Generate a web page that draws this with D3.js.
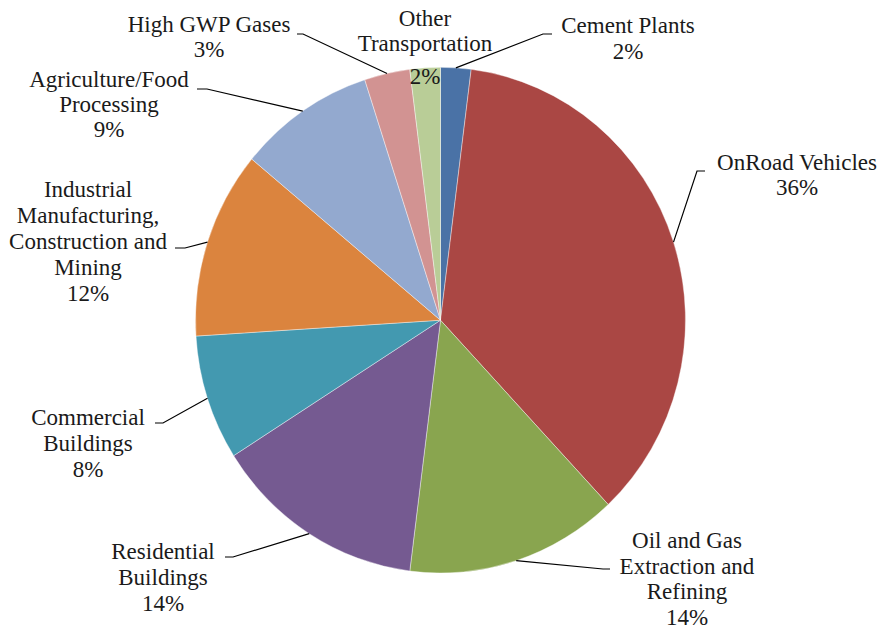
<!DOCTYPE html>
<html>
<head>
<meta charset="utf-8">
<script src="https://cdn.jsdelivr.net/npm/d3@7"></script>
<style>
  body { margin: 0; background: #fff; }
  text { font-family: "Liberation Serif", "Times New Roman", serif; fill: #1a1a1a; }
</style>
</head>
<body>
<div id="chart"></div>
<script>
// slices, clockwise from 12 o'clock
var categories = ["Cement Plants", "OnRoad Vehicles", "Oil and Gas Extraction and Refining",
    "Residential Buildings", "Commercial Buildings", "Industrial Manufacturing, Construction and Mining",
    "Agriculture/Food Processing", "High GWP Gases", "Other Transportation"];
var values = [2, 36, 14, 14, 8, 12, 9, 3, 2];
var colors = ["#4A72A6", "#AA4744", "#89A54F", "#755A91", "#4399B0", "#DB843E", "#93A9CF", "#D29392", "#B9CD97"];

// label text broken the way the chart shows it
var labelLines = [
    ["Cement Plants"],
    ["OnRoad Vehicles"],
    ["Oil and Gas", "Extraction and", "Refining"],
    ["Residential", "Buildings"],
    ["Commercial", "Buildings"],
    ["Industrial", "Manufacturing,", "Construction and", "Mining"],
    ["Agriculture/Food", "Processing"],
    ["High GWP Gases"],
    ["Other", "Transportation"]
];

// label layout: centre x, first baseline, line step
var labelPos = [
    [628, 33, 26], [797, 170, 25], [687, 548, 25.7], [163, 559, 26], [88, 425, 26],
    [88, 197, 26], [109, 87, 25], [209, 32, 25], [425, 26, 25]
];
// leader elbows [x, y, end x]; null = no leader
var leaderPos = [
    [543, 34, 552], [697, 171, 705], [603, 569, 610], [233, 557, 225], [163, 423, 155],
    [185, 248, 175], [207, 89, 197], [303, 34, 297], null
];

var width = 882, height = 629;
var cx = 440.5, cy = 320.2;
var radius = 245;
var sy = 1.032; // the picture is a little taller than wide

var svg = d3.select("#chart")
    .append("svg")
    .attr("width", width)
    .attr("height", height);

var pie = d3.pie().sort(null).value(function (d) { return d; });
var arcs = pie(values);

var arc = d3.arc().innerRadius(0).outerRadius(radius);

svg.append("g")
    .attr("transform", "translate(" + cx + "," + cy + ") scale(1," + sy + ")")
    .selectAll("path")
    .data(arcs)
    .enter()
    .append("path")
    .attr("d", arc)
    .attr("fill", function (d, i) { return colors[i]; })
    .attr("stroke", "#fff")
    .attr("stroke-width", 0.4);

// leader lines start at the middle of each slice's rim
svg.append("g")
    .selectAll("polyline")
    .data(arcs.filter(function (d, i) { return leaderPos[i]; }))
    .enter()
    .append("polyline")
    .attr("points", function (d) {
        var i = d.index;
        var a = (d.startAngle + d.endAngle) / 2;
        var p = leaderPos[i];
        var x0 = cx + Math.sin(a) * radius;
        var y0 = cy - Math.cos(a) * radius * sy;
        return [[x0, y0], [p[0], p[1]], [p[2], p[1]]].join(" ");
    })
    .attr("fill", "none")
    .attr("stroke", "#000")
    .attr("stroke-width", 1.2);

var labels = svg.append("g")
    .selectAll("text")
    .data(arcs)
    .enter()
    .append("text")
    .attr("text-anchor", "middle")
    .style("font-size", "23px");

labels.each(function (d, i) {
    var t = d3.select(this);
    var p = labelPos[i];
    var lines = labelLines[i].concat([Math.round(d.value) + "%"]);
    lines.forEach(function (s, k) {
        var y = p[1] + k * p[2];
        if (i === 8 && k === 2) y += 8;
        t.append("tspan").attr("x", p[0]).attr("y", y).text(s);
    });
});
</script>
</body>
</html>
